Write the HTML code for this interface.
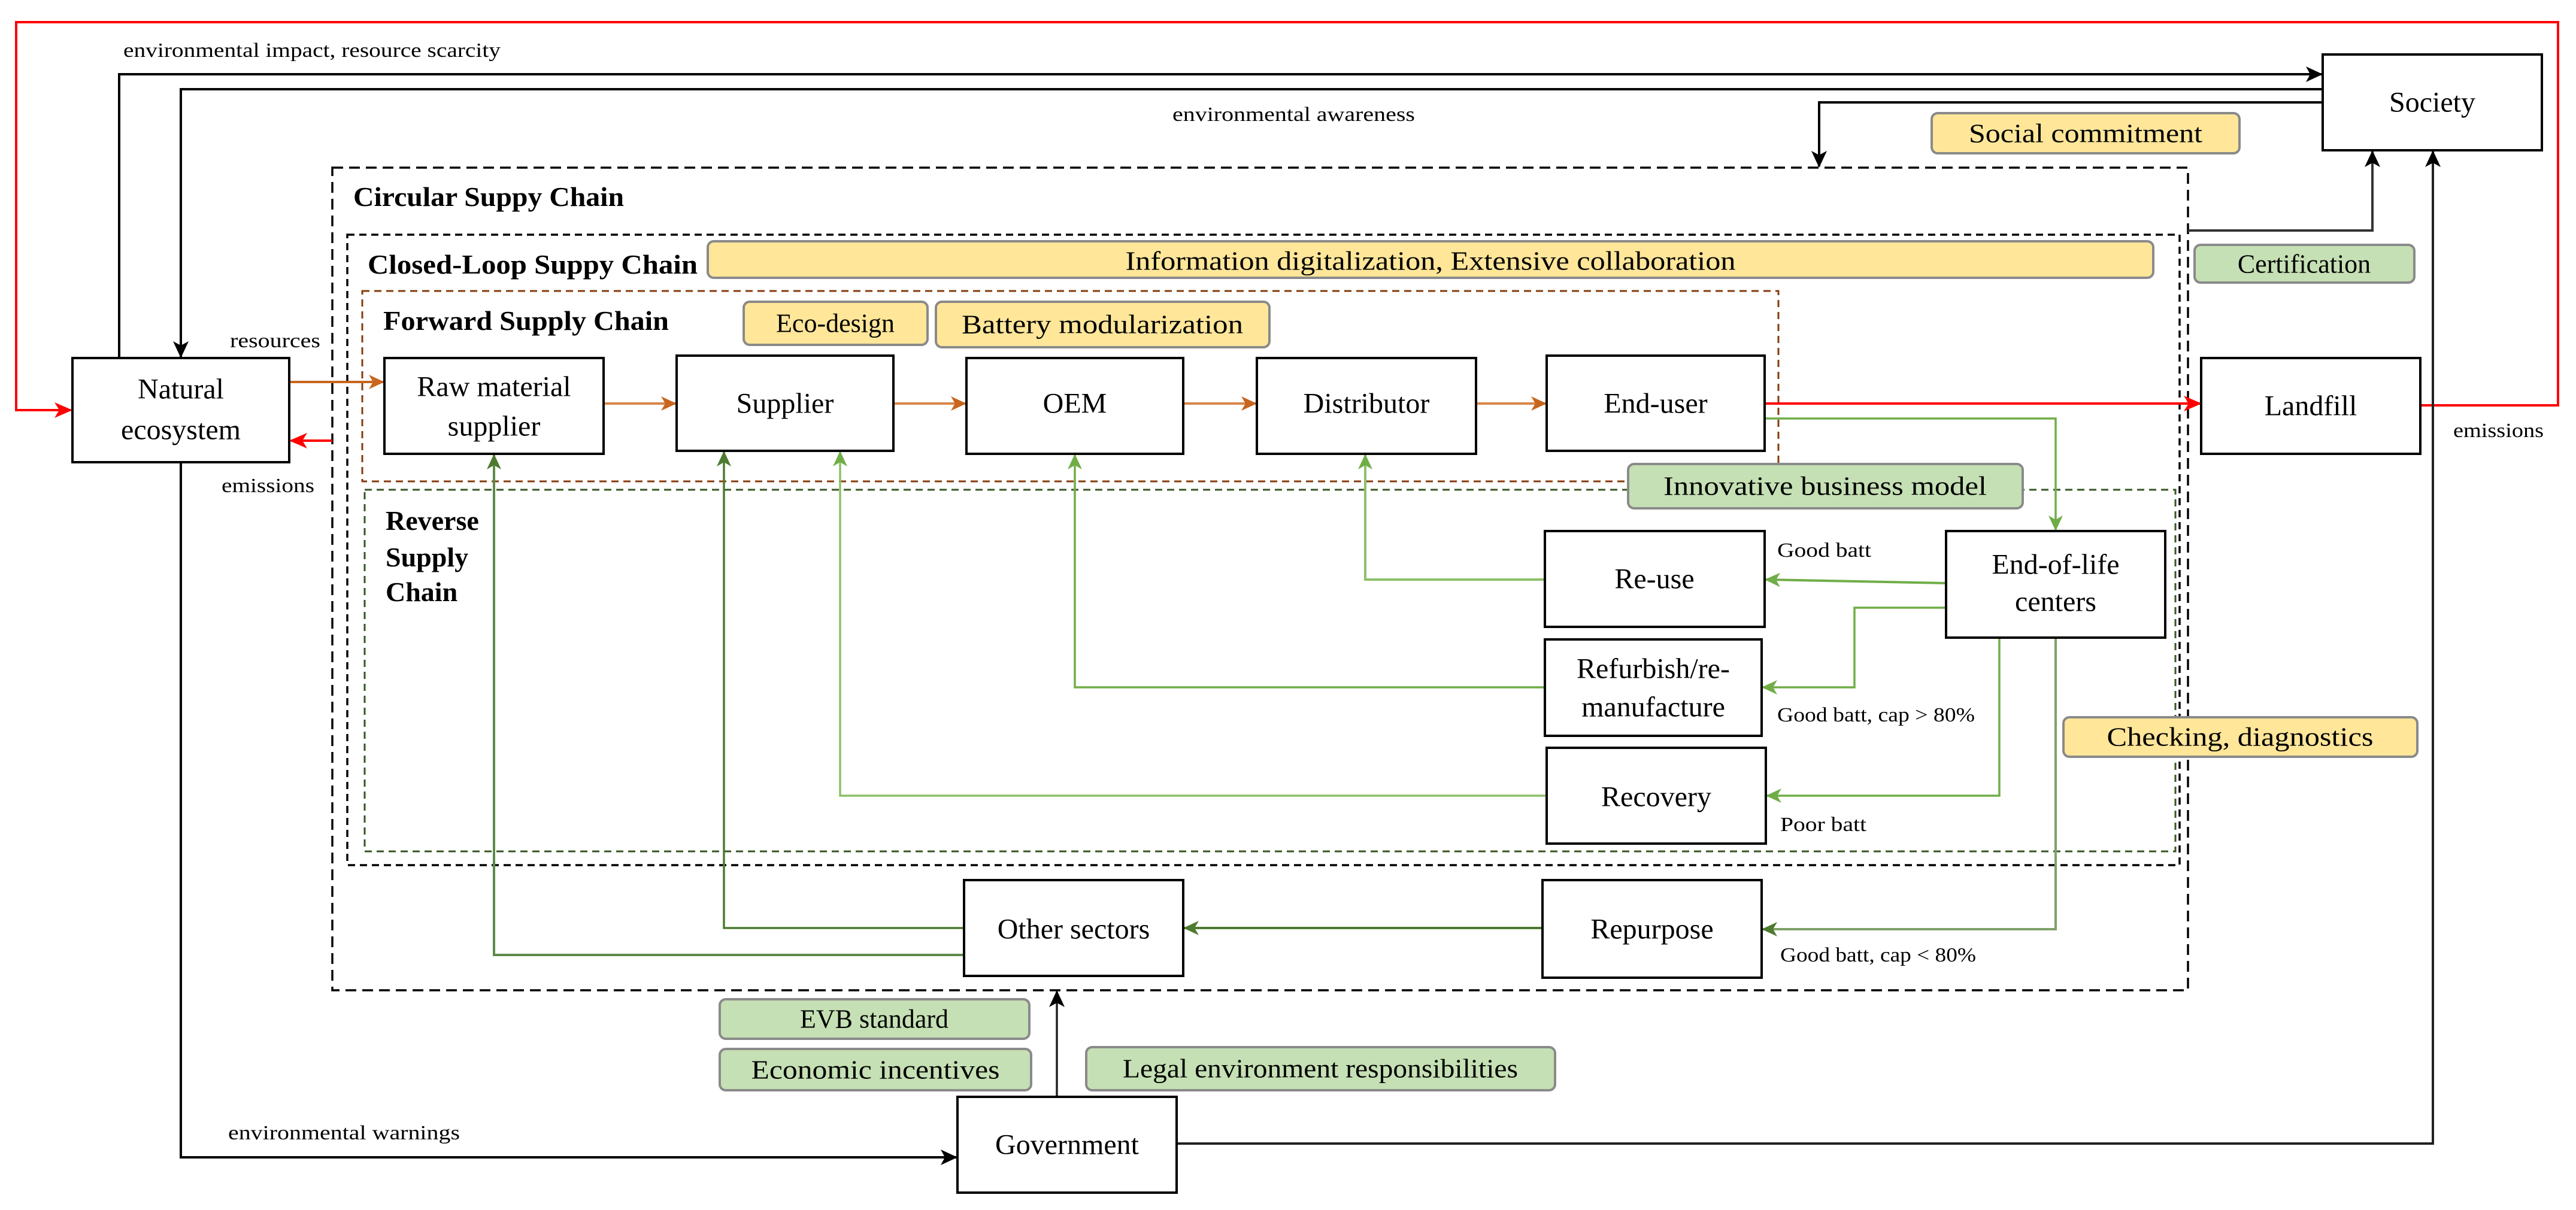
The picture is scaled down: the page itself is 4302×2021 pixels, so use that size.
<!DOCTYPE html>
<html><head><meta charset="utf-8"><style>
html,body{margin:0;padding:0;background:#fff;}
svg{display:block;}
text{font-family:"Liberation Serif",serif;fill:#000;}
.bx{fill:#fff;stroke:#000;stroke-width:4;}
.bt{font-size:48px;text-anchor:middle;dominant-baseline:central;}
.sm{font-size:34px;}
.tt{font-size:46px;font-weight:bold;}
.yb{fill:#FFE699;stroke:#8a8a8a;stroke-width:4;}
.gb{fill:#C5E0B4;stroke:#8a8a8a;stroke-width:4;}
</style></head><body>
<svg width="4302" height="2021" viewBox="0 0 4302 2021" xmlns="http://www.w3.org/2000/svg">
<defs>
<marker id="ak" markerWidth="10" markerHeight="10" refX="9" refY="5" orient="auto" markerUnits="userSpaceOnUse" viewBox="0 0 10 10"><path d="M0,0 L10,5 L0,10 L3,5 z" fill="#000"/></marker>
<marker id="ar" markerWidth="30" markerHeight="30" refX="27" refY="15" orient="auto" markerUnits="userSpaceOnUse" viewBox="0 0 30 30"><path d="M0,2 L30,15 L0,28 L8,15 z" fill="#f00"/></marker>
<marker id="ao" markerWidth="26" markerHeight="26" refX="24" refY="13" orient="auto" markerUnits="userSpaceOnUse" viewBox="0 0 26 26"><path d="M0,1 L26,13 L0,25 L7,13 z" fill="#C8651E"/></marker>
<marker id="alg" markerWidth="26" markerHeight="26" refX="24" refY="13" orient="auto" markerUnits="userSpaceOnUse" viewBox="0 0 26 26"><path d="M0,1 L26,13 L0,25 L7,13 z" fill="#70AD47"/></marker>
<marker id="adg" markerWidth="26" markerHeight="26" refX="24" refY="13" orient="auto" markerUnits="userSpaceOnUse" viewBox="0 0 26 26"><path d="M0,1 L26,13 L0,25 L7,13 z" fill="#4E7A30"/></marker>
<marker id="ab" markerWidth="28" markerHeight="28" refX="26" refY="14" orient="auto" markerUnits="userSpaceOnUse" viewBox="0 0 28 28"><path d="M0,1 L28,14 L0,27 L7,14 z" fill="#000"/></marker>
</defs>

<!-- dashed containers -->
<rect x="555" y="280" width="3099" height="1374" fill="none" stroke="#000" stroke-width="3.5" stroke-dasharray="18,10"/>
<rect x="580" y="392" width="3060" height="1053" fill="none" stroke="#000" stroke-width="3.5" stroke-dasharray="12,8"/>
<rect x="605" y="486" width="2365" height="318" fill="none" stroke="#843C0C" stroke-width="3" stroke-dasharray="12,8"/>
<rect x="609" y="818" width="3024" height="604" fill="none" stroke="#375623" stroke-width="3" stroke-dasharray="12,8"/>

<!-- red loop -->
<polyline points="4042,677 4272,677 4272,37 27,37 27,685 118,685" fill="none" stroke="#f00" stroke-width="4" marker-end="url(#ar)"/>
<line x1="2947" y1="674" x2="3674" y2="674" stroke="#f00" stroke-width="4" marker-end="url(#ar)"/>
<polyline points="555,736 486,736" fill="none" stroke="#f00" stroke-width="4" marker-end="url(#ar)"/>

<!-- black lines -->
<polyline points="199,598 199,124 3877,124" fill="none" stroke="#000" stroke-width="4" marker-end="url(#ab)"/>
<polyline points="3877,149 302,149 302,596" fill="none" stroke="#000" stroke-width="4" marker-end="url(#ab)"/>
<polyline points="3879,171 3038,171 3038,278" fill="none" stroke="#000" stroke-width="4" marker-end="url(#ab)"/>
<polyline points="3654,385 3962,385 3962,253" fill="none" stroke="#333" stroke-width="4" marker-end="url(#ab)"/>
<polyline points="302,772 302,1933 1597,1933" fill="none" stroke="#000" stroke-width="4" marker-end="url(#ab)"/>
<polyline points="1965,1910 4063,1910 4063,253" fill="none" stroke="#222" stroke-width="4" marker-end="url(#ab)"/>
<line x1="1765" y1="1832" x2="1765" y2="1656" stroke="#222" stroke-width="3.5" marker-end="url(#ab)"/>

<!-- orange forward -->
<line x1="483" y1="638" x2="640" y2="638" stroke="#C8651E" stroke-width="4" marker-end="url(#ao)"/>
<line x1="1008" y1="674" x2="1128" y2="674" stroke="#D9864A" stroke-width="4" marker-end="url(#ao)"/>
<line x1="1492" y1="674" x2="1612" y2="674" stroke="#D9864A" stroke-width="4" marker-end="url(#ao)"/>
<line x1="1976" y1="674" x2="2097" y2="674" stroke="#D9864A" stroke-width="4" marker-end="url(#ao)"/>
<line x1="2465" y1="674" x2="2581" y2="674" stroke="#D9864A" stroke-width="4" marker-end="url(#ao)"/>

<!-- green reverse -->
<polyline points="2947,699 3433,699 3433,885" fill="none" stroke="#70AD47" stroke-width="3.5" marker-end="url(#alg)"/>
<line x1="3250" y1="974" x2="2949" y2="968" stroke="#70AD47" stroke-width="4" marker-end="url(#alg)"/>
<polyline points="2580,968 2280,968 2280,760" fill="none" stroke="#8CC168" stroke-width="4" marker-end="url(#alg)"/>
<polyline points="3250,1015 3097,1015 3097,1148 2944,1148" fill="none" stroke="#70AD47" stroke-width="3.5" marker-end="url(#alg)"/>
<polyline points="2580,1148 1795,1148 1795,760" fill="none" stroke="#70AD47" stroke-width="3.5" marker-end="url(#alg)"/>
<polyline points="3339,1065 3339,1329 2951,1329" fill="none" stroke="#70AD47" stroke-width="3.5" marker-end="url(#alg)"/>
<polyline points="2583,1329 1403,1329 1403,755" fill="none" stroke="#8CC168" stroke-width="3.5" marker-end="url(#alg)"/>
<polyline points="3433,1065 3433,1552 2944,1552" fill="none" stroke="#7FA06A" stroke-width="4" marker-end="url(#adg)"/>
<line x1="2576" y1="1550" x2="1978" y2="1550" stroke="#4E7A30" stroke-width="4" marker-end="url(#adg)"/>
<polyline points="1610,1550 1209,1550 1209,755" fill="none" stroke="#4E7A30" stroke-width="3.5" marker-end="url(#adg)"/>
<polyline points="1610,1595 825,1595 825,760" fill="none" stroke="#5E8A48" stroke-width="4" marker-end="url(#adg)"/>

<!-- banners -->
<rect class="yb" x="1182" y="403" width="2414" height="61" rx="10"/>
<text x="2389" y="436" style="font-size:44px;text-anchor:middle;dominant-baseline:central" textLength="1019" lengthAdjust="spacingAndGlyphs">Information digitalization, Extensive collaboration</text>
<rect class="yb" x="1242" y="504" width="307" height="72" rx="10"/>
<text x="1395" y="540" class="bt" style="font-size:44px">Eco-design</text>
<rect class="yb" x="1563" y="504" width="557" height="76" rx="10"/>
<text x="1841" y="542" class="bt" style="font-size:44px" textLength="470" lengthAdjust="spacingAndGlyphs">Battery modularization</text>
<rect class="yb" x="3226" y="189" width="514" height="67" rx="10"/>
<text x="3483" y="223" class="bt" style="font-size:44px" textLength="390" lengthAdjust="spacingAndGlyphs">Social commitment</text>
<rect class="gb" x="3665" y="409" width="367" height="63" rx="10"/>
<text x="3848" y="441" class="bt" style="font-size:44px">Certification</text>
<rect class="gb" x="2719" y="775" width="659" height="74" rx="10"/>
<text x="3048" y="812" class="bt" style="font-size:44px" textLength="540" lengthAdjust="spacingAndGlyphs">Innovative business model</text>
<rect class="yb" x="3446" y="1198" width="591" height="66" rx="10"/>
<text x="3741" y="1231" class="bt" style="font-size:44px" textLength="445" lengthAdjust="spacingAndGlyphs">Checking, diagnostics</text>
<rect class="gb" x="1202" y="1669" width="517" height="66" rx="10"/>
<text x="1460" y="1702" class="bt" style="font-size:44px">EVB standard</text>
<rect class="gb" x="1202" y="1752" width="520" height="69" rx="10"/>
<text x="1462" y="1787" class="bt" style="font-size:44px" textLength="415" lengthAdjust="spacingAndGlyphs">Economic incentives</text>
<rect class="gb" x="1814" y="1749" width="783" height="72" rx="10"/>
<text x="2205" y="1785" class="bt" style="font-size:44px" textLength="660" lengthAdjust="spacingAndGlyphs">Legal environment responsibilities</text>

<!-- boxes -->
<rect class="bx" x="121" y="598" width="362" height="174"/>
<text x="302" y="650" class="bt">Natural</text><text x="302" y="718" class="bt">ecosystem</text>
<rect class="bx" x="642" y="598" width="366" height="160"/>
<text x="825" y="646" class="bt">Raw material</text><text x="825" y="712" class="bt">supplier</text>
<rect class="bx" x="1130" y="594" width="362" height="159"/>
<text x="1311" y="674" class="bt">Supplier</text>
<rect class="bx" x="1614" y="598" width="362" height="160"/>
<text x="1795" y="674" class="bt">OEM</text>
<rect class="bx" x="2099" y="598" width="366" height="160"/>
<text x="2282" y="674" class="bt">Distributor</text>
<rect class="bx" x="2583" y="594" width="364" height="159"/>
<text x="2765" y="674" class="bt">End-user</text>
<rect class="bx" x="3676" y="598" width="366" height="160"/>
<text x="3859" y="678" class="bt">Landfill</text>
<rect class="bx" x="3879" y="91" width="366" height="160"/>
<text x="4062" y="171" class="bt">Society</text>
<rect class="bx" x="2580" y="887" width="367" height="160"/>
<text x="2763" y="967" class="bt">Re-use</text>
<rect class="bx" x="3250" y="887" width="366" height="178"/>
<text x="3433" y="943" class="bt">End-of-life</text><text x="3433" y="1005" class="bt">centers</text>
<rect class="bx" x="2580" y="1068" width="362" height="161"/>
<text x="2761" y="1117" class="bt">Refurbish/re-</text><text x="2761" y="1181" class="bt">manufacture</text>
<rect class="bx" x="2583" y="1249" width="366" height="160"/>
<text x="2766" y="1331" class="bt">Recovery</text>
<rect class="bx" x="2576" y="1470" width="366" height="163"/>
<text x="2759" y="1552" class="bt">Repurpose</text>
<rect class="bx" x="1610" y="1470" width="366" height="160"/>
<text x="1793" y="1552" class="bt">Other sectors</text>
<rect class="bx" x="1599" y="1832" width="366" height="160"/>
<text x="1782" y="1912" class="bt">Government</text>

<!-- titles -->
<text x="590" y="344" class="tt" textLength="452" lengthAdjust="spacingAndGlyphs">Circular Suppy Chain</text>
<text x="614" y="457" class="tt" textLength="551" lengthAdjust="spacingAndGlyphs">Closed-Loop Suppy Chain</text>
<text x="640" y="551" class="tt" textLength="477" lengthAdjust="spacingAndGlyphs">Forward Supply Chain</text>
<text x="644" y="885" class="tt">Reverse</text>
<text x="644" y="946" class="tt">Supply</text>
<text x="644" y="1004" class="tt">Chain</text>

<!-- small labels -->
<text x="206" y="95" class="sm" textLength="630" lengthAdjust="spacingAndGlyphs">environmental impact, resource scarcity</text>
<text x="1958" y="202" class="sm" textLength="405" lengthAdjust="spacingAndGlyphs">environmental awareness</text>
<text x="384" y="580" class="sm" textLength="151" lengthAdjust="spacingAndGlyphs">resources</text>
<text x="370" y="822" class="sm" textLength="155" lengthAdjust="spacingAndGlyphs">emissions</text>
<text x="4097" y="730" class="sm" textLength="151" lengthAdjust="spacingAndGlyphs">emissions</text>
<text x="381" y="1903" class="sm" textLength="387" lengthAdjust="spacingAndGlyphs">environmental warnings</text>
<text x="2968" y="930" class="sm" textLength="157" lengthAdjust="spacingAndGlyphs">Good batt</text>
<text x="2968" y="1205" class="sm" textLength="330" lengthAdjust="spacingAndGlyphs">Good batt, cap &gt; 80%</text>
<text x="2973" y="1388" class="sm" textLength="144" lengthAdjust="spacingAndGlyphs">Poor batt</text>
<text x="2973" y="1606" class="sm" textLength="327" lengthAdjust="spacingAndGlyphs">Good batt, cap &lt; 80%</text>
</svg>
</body></html>
